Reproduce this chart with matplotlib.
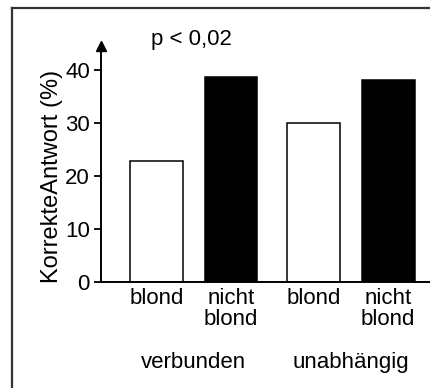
import matplotlib.pyplot as plt
from matplotlib.lines import Line2D

plt.rcParams['font.family'] = ['Liberation Sans', 'DejaVu Sans']

# data
bar_labels = ['blond', 'nicht\nblond', 'blond', 'nicht\nblond']
values = [22.8, 38.7, 30.0, 38.1]
colors = ['white', 'black', 'white', 'black']
groups = ['verbunden', 'unabhängig']
y_ticks = [0, 10, 20, 30, 40]
p_text = 'p < 0,02'

W, H = 431, 388
fs = 16
fig = plt.figure(figsize=(W / 100, H / 100), dpi=100)

# axes placed in pixel terms of the reference
ax_left, ax_right, ax_bottom, ax_top = 101, 431, 282, 46
ax = fig.add_axes([ax_left / W, (H - ax_bottom) / H,
                   (ax_right - ax_left) / W, (ax_bottom - ax_top) / H])

pos = [0, 1, 2.11, 3.11]
ax.bar(pos, values, width=0.71, color=colors, edgecolor='black', linewidth=1.1)

ax.set_xlim(-0.745, 3.685)
ax.set_ylim(0, 44.5)
ax.set_yticks(y_ticks)
ax.set_xticks([])
ax.tick_params(axis='y', length=5, width=1.3, labelsize=fs, pad=3)
for s in ['top', 'right']:
    ax.spines[s].set_visible(False)
for s in ['left', 'bottom']:
    ax.spines[s].set_linewidth(1.4)

# arrow head on the y axis
ax.plot(0, 1, marker='^', markersize=7, color='black', transform=ax.transAxes,
        clip_on=False)

# bar labels below the axis
for x, lab in zip(pos, bar_labels):
    ax.text(x, -1.2, lab, ha='center', va='top', fontsize=fs, linespacing=0.95)

# group labels
for i, g in enumerate(groups):
    gx = (pos[2 * i] + pos[2 * i + 1]) / 2
    ax.text(gx, -15.2, g, ha='center', va='center', fontsize=fs)

ax.set_ylabel('KorrekteAntwort (%)', fontsize=17)
ax.yaxis.set_label_coords((63 - ax_left) / (ax_right - ax_left),
                          (ax_bottom - 176) / (ax_bottom - ax_top))
fig.text(191 / W, 1 - 40 / H, p_text, ha='center', va='center', fontsize=fs)

# cropped outer frame
fig.add_artist(Line2D([12 / W, 12 / W], [0, 1 - 8 / H], color='#333333', lw=1.6))
fig.add_artist(Line2D([12 / W, 1], [1 - 8 / H, 1 - 8 / H], color='#333333', lw=1.6))

fig.savefig('out.png', dpi=100)
